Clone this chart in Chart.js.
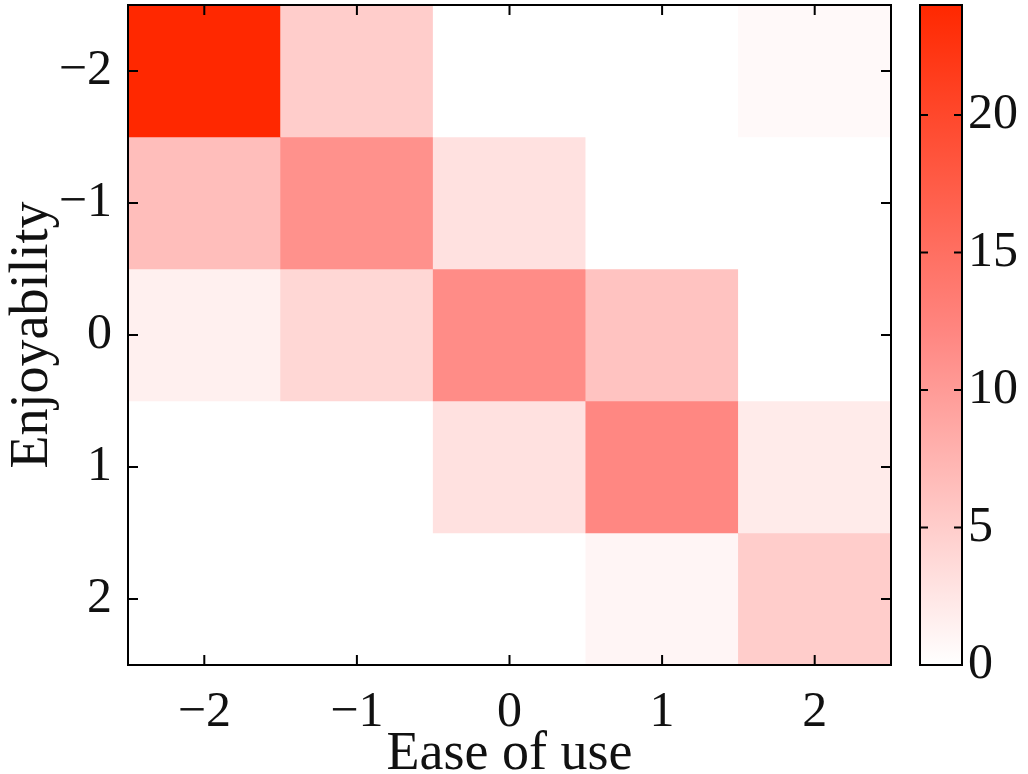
<!DOCTYPE html>
<html>
<head>
<meta charset="utf-8">
<script src="https://cdn.jsdelivr.net/npm/chart.js@4"></script>
<style>
  body { margin: 0; background: #fff; }
  #wrap { position: relative; width: 1028px; height: 774px; }
  #heat { position: absolute; left: 0; top: 0; }
  #bar { position: absolute; left: 900px; top: 0; }
</style>
</head>
<body>
<div id="wrap">
  <canvas id="heat" width="900" height="774"></canvas>
  <canvas id="bar" width="128" height="774"></canvas>
</div>
<script>
// axes
const easeLabels = ['\u22122', '\u22121', '0', '1', '2'];
const enjoyLevels = [-2, -1, 0, 1, 2];

// counts, one row per Enjoyability level, columns are Ease of use -2..2
const enjoyM2 = [24, 5, 0, 0, 0.6];
const enjoyM1 = [6.5, 11, 3, 0, 0];
const enjoy0 = [1.5, 4, 11.5, 6, 0];
const enjoy1 = [0, 0, 3, 12, 2];
const enjoy2 = [0, 0, 0, 1, 5];
const rows = [enjoyM2, enjoyM1, enjoy0, enjoy1, enjoy2];

const cmax = 24;
const colorbarTicks = [0, 5, 10, 15, 20];

const serif = '"Liberation Serif", "DejaVu Serif", serif';
const fmt = v => (v < 0 ? '\u2212' + Math.abs(v) : String(v));

// white -> pink -> red
const stops = [[0, [255, 255, 255]], [0.5, [255, 135, 130]], [1, [255, 40, 0]]];
function shade(v) {
    const t = Math.max(0, Math.min(1, v / cmax));
    let i = 0;
    while (i < stops.length - 2 && t > stops[i + 1][0]) i++;
    const [t0, c0] = stops[i], [t1, c1] = stops[i + 1];
    const f = (t - t0) / (t1 - t0);
    const c = c0.map((x, k) => Math.round(x + (c1[k] - x) * f));
    return `rgb(${c[0]},${c[1]},${c[2]})`;
}

// keep the plot box where it is, labels may hang over the edge
function noPad(s) {
    s.paddingTop = 0;
    s.paddingBottom = 0;
    s.paddingLeft = 0;
    s.paddingRight = 0;
}

// frame + inward ticks on all four sides
const frameTicks = {
    id: 'frameTicks',
    afterDraw(chart, args, opts) {
        const { ctx, chartArea: a } = chart;
        const len = opts.len || 10;
        ctx.save();
        ctx.strokeStyle = '#000';
        ctx.lineWidth = 2;
        ctx.strokeRect(a.left, a.top, a.right - a.left, a.bottom - a.top);
        ctx.beginPath();
        const xs = chart.scales.x;
        if (xs && opts.xTicks) {
            xs.ticks.forEach((t, i) => {
                const px = xs.getPixelForTick(i);
                ctx.moveTo(px, a.bottom); ctx.lineTo(px, a.bottom - len);
                ctx.moveTo(px, a.top); ctx.lineTo(px, a.top + len);
            });
        }
        const ys = chart.scales.y;
        ys.ticks.forEach(t => {
            const py = ys.getPixelForValue(t.value);
            ctx.moveTo(a.left, py); ctx.lineTo(a.left + len, py);
            ctx.moveTo(a.right, py); ctx.lineTo(a.right - len, py);
        });
        ctx.stroke();
        ctx.restore();
    }
};

new Chart(document.getElementById('heat'), {
    type: 'bar',
    data: {
        labels: easeLabels,
        datasets: rows.map((vals, r) => ({
            label: 'Enjoyability ' + enjoyLevels[r],
            data: vals.map(() => [enjoyLevels[r] - 0.5, enjoyLevels[r] + 0.5]),
            backgroundColor: vals.map(shade),
            borderWidth: 0,
            barPercentage: 1,
            categoryPercentage: 1,
            grouped: false
        }))
    },
    options: {
        responsive: false,
        animation: false,
        layout: { autoPadding: false, padding: { top: 5, right: 9, left: 0, bottom: 0 } },
        plugins: {
            legend: { display: false },
            tooltip: { enabled: false },
            frameTicks: { len: 10, xTicks: true }
        },
        scales: {
            x: {
                grid: { display: false, drawTicks: false, tickLength: 0 },
                border: { display: false },
                ticks: { color: '#111', font: { family: serif, size: 50 }, padding: 18 },
                title: { display: true, text: 'Ease of use', color: '#111', font: { family: serif, size: 54 }, padding: { top: 0, bottom: -13 } },
                afterFit: s => { s.height = 109; noPad(s); }
            },
            y: {
                min: -2.5,
                max: 2.5,
                reverse: true,
                grid: { display: false, drawTicks: false, tickLength: 0 },
                border: { display: false },
                afterBuildTicks: s => { s.ticks = enjoyLevels.map(v => ({ value: v })); },
                ticks: { color: '#111', font: { family: serif, size: 50 }, padding: 16, callback: v => fmt(v) },
                title: { display: true, text: 'Enjoyability', color: '#111', font: { family: serif, size: 54 }, padding: { top: 0, bottom: 0 } },
                afterFit: s => { s.width = 128; noPad(s); }
            }
        }
    },
    plugins: [frameTicks]
});

new Chart(document.getElementById('bar'), {
    type: 'bar',
    data: {
        labels: ['scale'],
        datasets: [{
            data: [[0, cmax]],
            backgroundColor: ctx => {
                const a = ctx.chart.chartArea;
                if (!a) return 'rgba(0,0,0,0)';
                const g = ctx.chart.ctx.createLinearGradient(0, a.bottom, 0, a.top);
                stops.forEach(s => g.addColorStop(s[0], shade(s[0] * cmax)));
                return g;
            },
            borderWidth: 0,
            barPercentage: 1,
            categoryPercentage: 1
        }]
    },
    options: {
        responsive: false,
        animation: false,
        layout: { autoPadding: false, padding: { top: 5, left: 20, right: 0, bottom: 109 } },
        plugins: {
            legend: { display: false },
            tooltip: { enabled: false },
            frameTicks: { len: 8, xTicks: false }
        },
        scales: {
            x: { display: false },
            y: {
                position: 'right',
                min: 0,
                max: cmax,
                grid: { display: false, drawTicks: false, tickLength: 0 },
                border: { display: false },
                afterBuildTicks: s => { s.ticks = colorbarTicks.map(v => ({ value: v })); },
                ticks: { color: '#111', font: { family: serif, size: 50 }, padding: 6 },
                afterFit: s => { s.width = 66; noPad(s); }
            }
        }
    },
    plugins: [frameTicks]
});
</script>
</body>
</html>
